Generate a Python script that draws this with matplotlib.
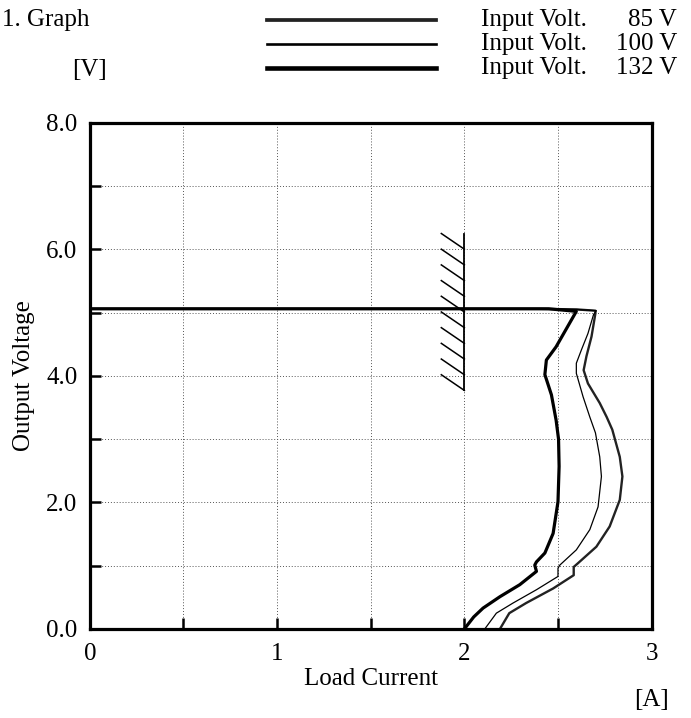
import numpy as np
import matplotlib
matplotlib.use("Agg")
import matplotlib.pyplot as plt
from matplotlib.lines import Line2D

# Output voltage vs load current, three input voltages
v_85_current = [0.0, 2.40, 2.60, 2.70, 2.70, 2.679, 2.652, 2.637, 2.66, 2.723, 2.760,
                2.790, 2.83, 2.844, 2.83, 2.776, 2.705, 2.607, 2.584, 2.584, 2.474,
                2.33, 2.24, 2.19]
v_85_voltage = [5.06, 5.06, 5.05, 5.03, 4.99, 4.62, 4.31, 4.09, 3.88, 3.57, 3.35,
                3.15, 2.72, 2.41, 2.04, 1.62, 1.30, 1.04, 0.98, 0.85, 0.64,
                0.41, 0.25, 0.0]

v_100_current = [0.0, 2.40, 2.60, 2.705, 2.69, 2.66, 2.625, 2.598, 2.598, 2.634, 2.670,
                 2.700, 2.723, 2.732, 2.714, 2.67, 2.598, 2.51, 2.50, 2.50, 2.385,
                 2.26, 2.171, 2.109]
v_100_voltage = [5.06, 5.06, 5.05, 5.03, 4.97, 4.67, 4.41, 4.20, 4.04, 3.67, 3.35,
                 3.10, 2.72, 2.41, 1.93, 1.57, 1.25, 1.01, 0.96, 0.83, 0.62,
                 0.41, 0.25, 0.0]

v_132_current = [0.0, 2.45, 2.598, 2.49, 2.438, 2.43, 2.465, 2.490, 2.503, 2.506, 2.50,
                 2.474, 2.43, 2.385, 2.376, 2.385, 2.296, 2.19, 2.10, 2.05, 2.00]
v_132_voltage = [5.06, 5.06, 5.02, 4.46, 4.25, 4.02, 3.70, 3.30, 3.00, 2.57, 2.01,
                 1.51, 1.20, 1.06, 1.01, 0.91, 0.70, 0.51, 0.33, 0.19, 0.0]

series_labels = ["Input Volt.", "Input Volt.", "Input Volt."]
series_values = ["85 V", "100 V", "132 V"]

# rated current marker (hatched wall)
rated_current = 2.0
wall_top = 6.25
wall_bottom = 3.77
n_hatches = 10

plt.rcParams['font.family'] = ['Liberation Serif', 'DejaVu Serif']

fig = plt.figure(figsize=(6.91, 7.18), dpi=100)
ax = fig.add_axes([0.130, 0.124, 0.813, 0.705])

styles = [dict(color='#222222', lw=1.7),
          dict(color='black', lw=0.9),
          dict(color='black', lw=2.3)]

ax.plot(v_85_current, v_85_voltage, **styles[0])
ax.plot(v_100_current, v_100_voltage, **styles[1])
ax.plot(v_132_current, v_132_voltage, **styles[2])

# hatched wall at rated current
ax.plot([rated_current, rated_current], [wall_bottom, wall_top], color='black', lw=1.3)
hatch_dx = 0.123
hatch_dy = (wall_top - wall_bottom) / n_hatches
for v in np.linspace(wall_top, wall_bottom + hatch_dy, n_hatches):
    ax.plot([rated_current - hatch_dx, rated_current], [v, v - hatch_dy],
            color='black', lw=1.1)

ax.set_xlim(0, 3)
ax.set_ylim(0, 8)
ax.set_xticks(np.arange(0, 3.01, 0.5))
ax.set_xticklabels(['0', '', '1', '', '2', '', '3'])
ax.set_yticks(np.arange(0, 8.01, 1))
ax.set_yticklabels(['0.0', '', '2.0', '', '4.0', '', '6.0', '', '8.0'])
ax.tick_params(direction='in', length=8, width=1.8, labelsize=18)
ax.tick_params(axis='x', pad=10)
ax.tick_params(axis='y', pad=9)
ax.grid(True, linestyle=(0, (1, 2)), color='#555555', lw=0.7)
for s in ax.spines.values():
    s.set_linewidth(2.3)

ax.set_xlabel('Load Current', fontsize=18, labelpad=2)
ax.set_ylabel('Output Voltage', fontsize=18, labelpad=8)

# header and legend drawn in figure space
fig.text(0.003, 0.972, '1. Graph', fontsize=18, va='center', ha='left')
fig.text(0.104, 0.902, '[V]', fontsize=18, va='center', ha='left')
fig.text(0.968, 0.025, '[A]', fontsize=18, va='center', ha='right')

legend_y = [0.972, 0.939, 0.905]
for y, st, lab, val in zip(legend_y, styles, series_labels, series_values):
    fig.add_artist(Line2D([0.386, 0.631], [y, y], transform=fig.transFigure,
                          color=st['color'], lw=st['lw'] + 1.0))
    fig.text(0.696, y, lab, fontsize=18, va='center', ha='left')
    fig.text(0.980, y, val, fontsize=18, va='center', ha='right')

plt.savefig('out.png', dpi=100)
plt.close()
